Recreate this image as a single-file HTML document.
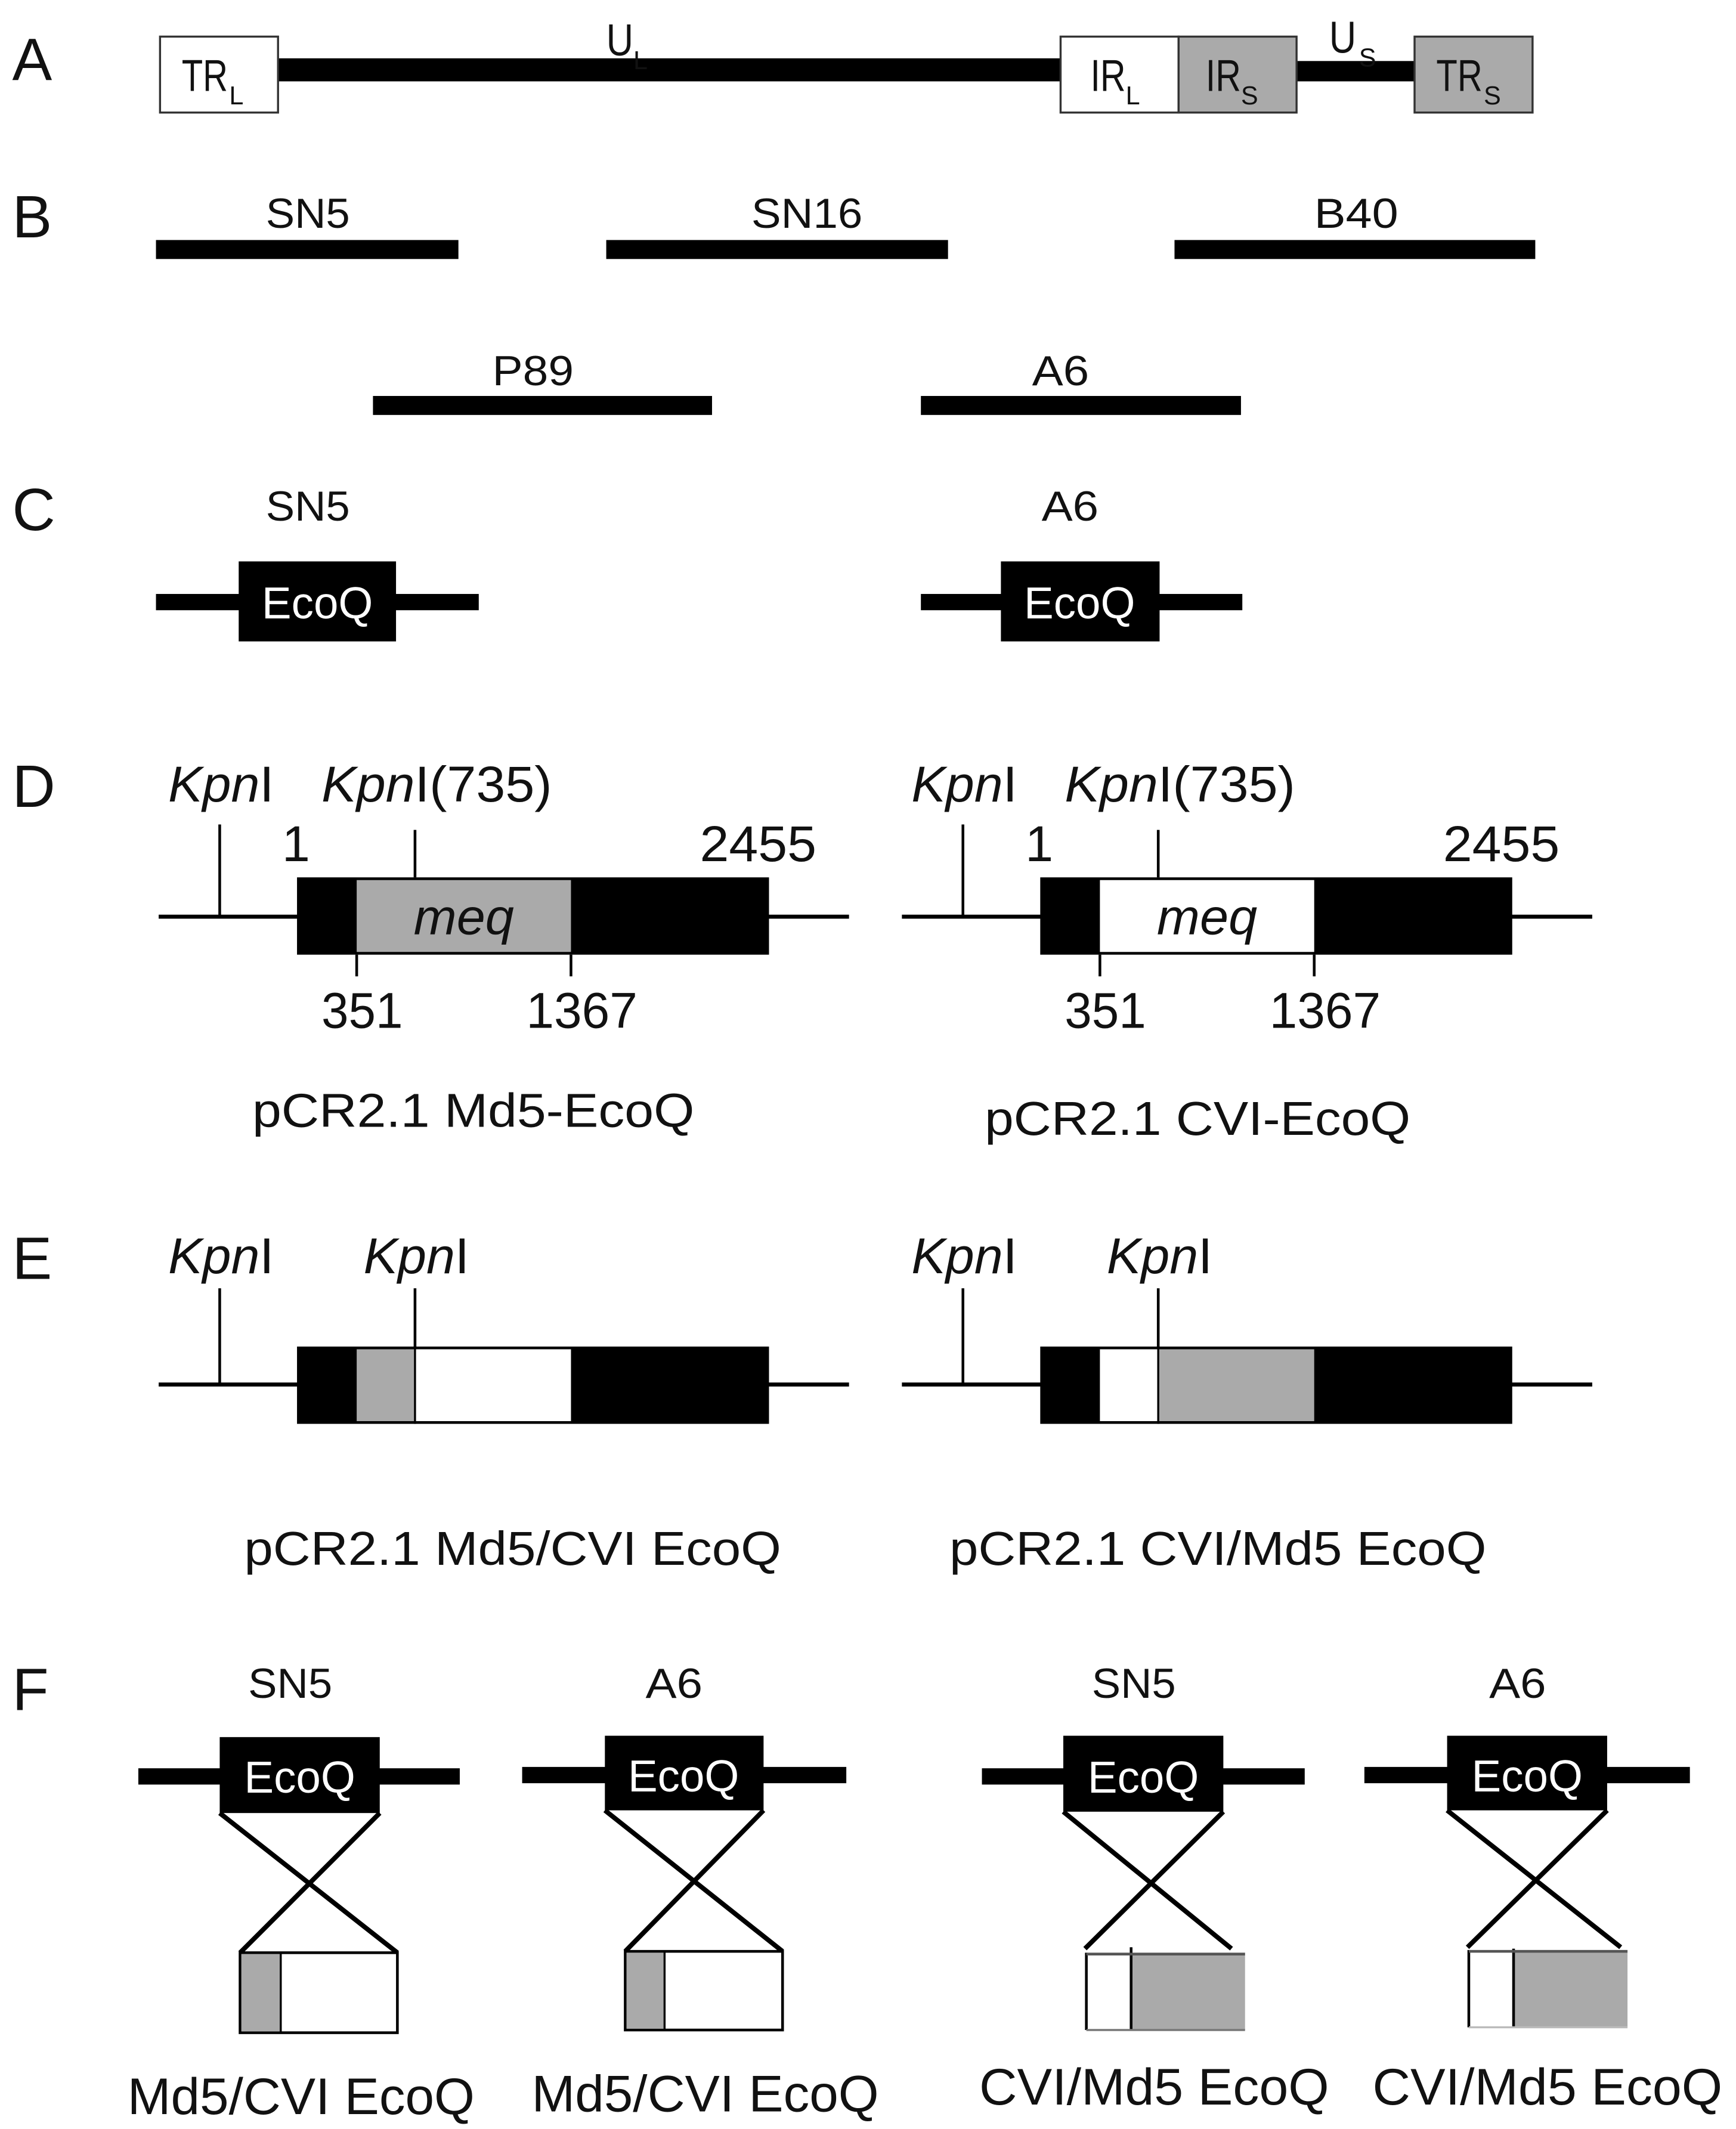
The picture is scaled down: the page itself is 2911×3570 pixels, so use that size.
<!DOCTYPE html>
<html><head><meta charset="utf-8"><style>
html,body{margin:0;padding:0;background:#fff;}
svg{display:block;}
text{font-family:"Liberation Sans",sans-serif;fill:#111;}
</style></head><body>
<svg width="2911" height="3570" viewBox="0 0 1280 1570" preserveAspectRatio="none" xmlns="http://www.w3.org/2000/svg">
<rect width="1280" height="1570" fill="#fff"/>
<g font-size="44">
<text x="9" y="59">A</text>
<text x="9" y="175">B</text>
<text x="9" y="391">C</text>
<text x="9" y="595">D</text>
<text x="9" y="943">E</text>
<text x="9" y="1261">F</text>
</g>
<!-- A -->
<rect x="205" y="43" width="577" height="17" fill="#000"/>
<rect x="956" y="45" width="87" height="15" fill="#000"/>
<rect x="118" y="27" width="87" height="56" fill="#fff" stroke="#333" stroke-width="1.5"/>
<rect x="782" y="27" width="87" height="56" fill="#fff" stroke="#333" stroke-width="1.5"/>
<rect x="869" y="27" width="87" height="56" fill="#aaa" stroke="#333" stroke-width="1.5"/>
<rect x="1043" y="27" width="87" height="56" fill="#aaa" stroke="#333" stroke-width="1.5"/>
<g font-size="33">
<text x="134" y="67" textLength="34" lengthAdjust="spacingAndGlyphs">TR</text><text x="169" y="77" font-size="19">L</text>
<text x="804" y="67" textLength="26" lengthAdjust="spacingAndGlyphs">IR</text><text x="830" y="77" font-size="19">L</text>
<text x="889" y="67" textLength="26" lengthAdjust="spacingAndGlyphs">IR</text><text x="915" y="77" font-size="19">S</text>
<text x="1059" y="67" textLength="34" lengthAdjust="spacingAndGlyphs">TR</text><text x="1094" y="77" font-size="19">S</text>
<text x="447" y="41" textLength="20" lengthAdjust="spacingAndGlyphs">U</text><text x="467" y="51" font-size="19">L</text>
<text x="980" y="39" textLength="20" lengthAdjust="spacingAndGlyphs">U</text><text x="1002" y="49" font-size="19">S</text>
</g>
<!-- B -->
<g fill="#000">
<rect x="115" y="177" width="223" height="14"/>
<rect x="447" y="177" width="252" height="14"/>
<rect x="866" y="177" width="266" height="14"/>
<rect x="275" y="292" width="250" height="14"/>
<rect x="679" y="292" width="236" height="14"/>
</g>
<g font-size="31" text-anchor="middle">
<text x="227" y="168" textLength="62" lengthAdjust="spacingAndGlyphs">SN5</text>
<text x="595" y="168" textLength="82" lengthAdjust="spacingAndGlyphs">SN16</text>
<text x="1000" y="168" textLength="62" lengthAdjust="spacingAndGlyphs">B40</text>
<text x="393" y="284" textLength="60" lengthAdjust="spacingAndGlyphs">P89</text>
<text x="782" y="284" textLength="42" lengthAdjust="spacingAndGlyphs">A6</text>
</g>
<!-- C -->
<g fill="#000">
<rect x="115" y="438" width="238" height="12"/>
<rect x="176" y="414" width="116" height="59"/>
<rect x="679" y="438" width="237" height="12"/>
<rect x="738" y="414" width="117" height="59"/>
</g>
<g font-size="31" text-anchor="middle">
<text x="227" y="384" textLength="62" lengthAdjust="spacingAndGlyphs">SN5</text>
<text x="789" y="384" textLength="42" lengthAdjust="spacingAndGlyphs">A6</text>
</g>
<g font-size="33" text-anchor="middle">
<text x="234" y="456" style="fill:#fff" textLength="82" lengthAdjust="spacingAndGlyphs">EcoQ</text>
<text x="796" y="456" style="fill:#fff" textLength="82" lengthAdjust="spacingAndGlyphs">EcoQ</text>
</g>
<!-- D -->
<g>
<line x1="117" y1="676" x2="626" y2="676" stroke="#000" stroke-width="3"/>
<line x1="162" y1="608" x2="162" y2="676" stroke="#000" stroke-width="2"/>
<line x1="306" y1="612" x2="306" y2="647" stroke="#000" stroke-width="2"/>
<rect x="219" y="647" width="348" height="57" fill="#000"/>
<rect x="263" y="649" width="158" height="53" fill="#aaa"/>
<line x1="263" y1="704" x2="263" y2="720" stroke="#000" stroke-width="2"/>
<line x1="421" y1="704" x2="421" y2="720" stroke="#000" stroke-width="2"/>
</g>
<g transform="translate(548,0)">
<line x1="117" y1="676" x2="626" y2="676" stroke="#000" stroke-width="3"/>
<line x1="162" y1="608" x2="162" y2="676" stroke="#000" stroke-width="2"/>
<line x1="306" y1="612" x2="306" y2="647" stroke="#000" stroke-width="2"/>
<rect x="219" y="647" width="348" height="57" fill="#000"/>
<rect x="263" y="649" width="158" height="53" fill="#fff"/>
<line x1="263" y1="704" x2="263" y2="720" stroke="#000" stroke-width="2"/>
<line x1="421" y1="704" x2="421" y2="720" stroke="#000" stroke-width="2"/>
</g>
<g font-size="37">
<text x="124" y="591" textLength="78" lengthAdjust="spacingAndGlyphs"><tspan font-style="italic">Kpn</tspan>I</text>
<text x="237" y="591" textLength="170" lengthAdjust="spacingAndGlyphs"><tspan font-style="italic">Kpn</tspan>I(735)</text>
<text x="208" y="635">1</text>
<text x="516" y="635" textLength="86" lengthAdjust="spacingAndGlyphs">2455</text>
<text x="305" y="689" font-style="italic" textLength="74" lengthAdjust="spacingAndGlyphs">meq</text>
<text x="237" y="758" textLength="60" lengthAdjust="spacingAndGlyphs">351</text>
<text x="388" y="758" textLength="82" lengthAdjust="spacingAndGlyphs">1367</text>
<text x="186" y="831" font-size="35" textLength="326" lengthAdjust="spacingAndGlyphs">pCR2.1 Md5-EcoQ</text>
<text x="672" y="591" textLength="78" lengthAdjust="spacingAndGlyphs"><tspan font-style="italic">Kpn</tspan>I</text>
<text x="785" y="591" textLength="170" lengthAdjust="spacingAndGlyphs"><tspan font-style="italic">Kpn</tspan>I(735)</text>
<text x="756" y="635">1</text>
<text x="1064" y="635" textLength="86" lengthAdjust="spacingAndGlyphs">2455</text>
<text x="853" y="689" font-style="italic" textLength="74" lengthAdjust="spacingAndGlyphs">meq</text>
<text x="785" y="758" textLength="60" lengthAdjust="spacingAndGlyphs">351</text>
<text x="936" y="758" textLength="82" lengthAdjust="spacingAndGlyphs">1367</text>
<text x="726" y="837" font-size="35" textLength="314" lengthAdjust="spacingAndGlyphs">pCR2.1 CVI-EcoQ</text>
</g>
<!-- E -->
<g>
<line x1="117" y1="1021" x2="626" y2="1021" stroke="#000" stroke-width="3"/>
<line x1="162" y1="950" x2="162" y2="1021" stroke="#000" stroke-width="2"/>
<line x1="306" y1="950" x2="306" y2="993" stroke="#000" stroke-width="2"/>
<rect x="219" y="993" width="348" height="57" fill="#000"/>
<rect x="263" y="995" width="43" height="53" fill="#aaa"/>
<rect x="306" y="995" width="115" height="53" fill="#fff"/>
<line x1="306" y1="993" x2="306" y2="1050" stroke="#000" stroke-width="1.5"/>
</g>
<g transform="translate(548,0)">
<line x1="117" y1="1021" x2="626" y2="1021" stroke="#000" stroke-width="3"/>
<line x1="162" y1="950" x2="162" y2="1021" stroke="#000" stroke-width="2"/>
<line x1="306" y1="950" x2="306" y2="993" stroke="#000" stroke-width="2"/>
<rect x="219" y="993" width="348" height="57" fill="#000"/>
<rect x="263" y="995" width="43" height="53" fill="#fff"/>
<rect x="306" y="995" width="115" height="53" fill="#aaa"/>
<line x1="306" y1="993" x2="306" y2="1050" stroke="#000" stroke-width="1.5"/>
</g>
<g font-size="37">
<text x="124" y="939" textLength="78" lengthAdjust="spacingAndGlyphs"><tspan font-style="italic">Kpn</tspan>I</text>
<text x="268" y="939" textLength="78" lengthAdjust="spacingAndGlyphs"><tspan font-style="italic">Kpn</tspan>I</text>
<text x="672" y="939" textLength="78" lengthAdjust="spacingAndGlyphs"><tspan font-style="italic">Kpn</tspan>I</text>
<text x="816" y="939" textLength="78" lengthAdjust="spacingAndGlyphs"><tspan font-style="italic">Kpn</tspan>I</text>
<text x="180" y="1154" font-size="35" textLength="396" lengthAdjust="spacingAndGlyphs">pCR2.1 Md5/CVI EcoQ</text>
<text x="700" y="1154" font-size="35" textLength="396" lengthAdjust="spacingAndGlyphs">pCR2.1 CVI/Md5 EcoQ</text>
</g>
<!-- F -->
<g fill="#000">
<rect x="102" y="1304" width="237" height="12"/>
<rect x="162" y="1281" width="118" height="56"/>
<rect x="385" y="1303" width="239" height="12"/>
<rect x="446" y="1280" width="117" height="55"/>
<rect x="724" y="1304" width="238" height="12"/>
<rect x="784" y="1280" width="118" height="56"/>
<rect x="1006" y="1303" width="240" height="12"/>
<rect x="1067" y="1280" width="118" height="55"/>
</g>
<g stroke="#000" stroke-width="3.5" fill="none">
<line x1="162" y1="1337" x2="293" y2="1440"/><line x1="280" y1="1337" x2="177" y2="1440"/>
<line x1="446" y1="1335" x2="577" y2="1439"/><line x1="563" y1="1335" x2="461" y2="1439"/>
<line x1="784" y1="1336" x2="908" y2="1437"/><line x1="902" y1="1336" x2="800" y2="1437"/>
<line x1="1067" y1="1335" x2="1195" y2="1436"/><line x1="1185" y1="1335" x2="1082" y2="1436"/>
</g>
<rect x="177" y="1440" width="116" height="59" fill="#fff" stroke="#000" stroke-width="2"/>
<rect x="178" y="1441" width="29" height="57" fill="#aaa"/><line x1="207" y1="1440" x2="207" y2="1499" stroke="#000" stroke-width="1.5"/>
<rect x="461" y="1439" width="116" height="58" fill="#fff" stroke="#000" stroke-width="2"/>
<rect x="462" y="1440" width="28" height="56" fill="#aaa"/><line x1="490" y1="1439" x2="490" y2="1497" stroke="#000" stroke-width="1.5"/>
<rect x="801" y="1440" width="117" height="57" fill="#aaa"/>
<rect x="801" y="1440" width="33" height="57" fill="#fff"/>
<line x1="801" y1="1440" x2="801" y2="1497" stroke="#000" stroke-width="2"/>
<line x1="834" y1="1436" x2="834" y2="1497" stroke="#000" stroke-width="2"/>
<line x1="801" y1="1441" x2="918" y2="1441" stroke="#555" stroke-width="2"/>
<line x1="801" y1="1497" x2="918" y2="1497" stroke="#777" stroke-width="1.5"/>
<rect x="1083" y="1438" width="117" height="57" fill="#aaa"/>
<rect x="1083" y="1438" width="33" height="57" fill="#fff"/>
<line x1="1083" y1="1438" x2="1083" y2="1495" stroke="#000" stroke-width="2"/>
<line x1="1116" y1="1437" x2="1116" y2="1495" stroke="#000" stroke-width="2"/>
<line x1="1083" y1="1439" x2="1200" y2="1439" stroke="#555" stroke-width="2"/>
<line x1="1083" y1="1495" x2="1200" y2="1495" stroke="#bbb" stroke-width="1.5"/>
<g font-size="31" text-anchor="middle">
<text x="214" y="1252" textLength="62" lengthAdjust="spacingAndGlyphs">SN5</text>
<text x="497" y="1252" textLength="42" lengthAdjust="spacingAndGlyphs">A6</text>
<text x="836" y="1252" textLength="62" lengthAdjust="spacingAndGlyphs">SN5</text>
<text x="1119" y="1252" textLength="42" lengthAdjust="spacingAndGlyphs">A6</text>
</g>
<g font-size="33" text-anchor="middle">
<text x="221" y="1322" style="fill:#fff" textLength="82" lengthAdjust="spacingAndGlyphs">EcoQ</text>
<text x="504" y="1321" style="fill:#fff" textLength="82" lengthAdjust="spacingAndGlyphs">EcoQ</text>
<text x="843" y="1322" style="fill:#fff" textLength="82" lengthAdjust="spacingAndGlyphs">EcoQ</text>
<text x="1126" y="1321" style="fill:#fff" textLength="82" lengthAdjust="spacingAndGlyphs">EcoQ</text>
</g>
<g font-size="38" text-anchor="middle">
<text x="222" y="1559" textLength="256" lengthAdjust="spacingAndGlyphs">Md5/CVI EcoQ</text>
<text x="520" y="1557" textLength="256" lengthAdjust="spacingAndGlyphs">Md5/CVI EcoQ</text>
<text x="851" y="1552" textLength="258" lengthAdjust="spacingAndGlyphs">CVI/Md5 EcoQ</text>
<text x="1141" y="1552" textLength="258" lengthAdjust="spacingAndGlyphs">CVI/Md5 EcoQ</text>
</g>
</svg>
</body></html>
